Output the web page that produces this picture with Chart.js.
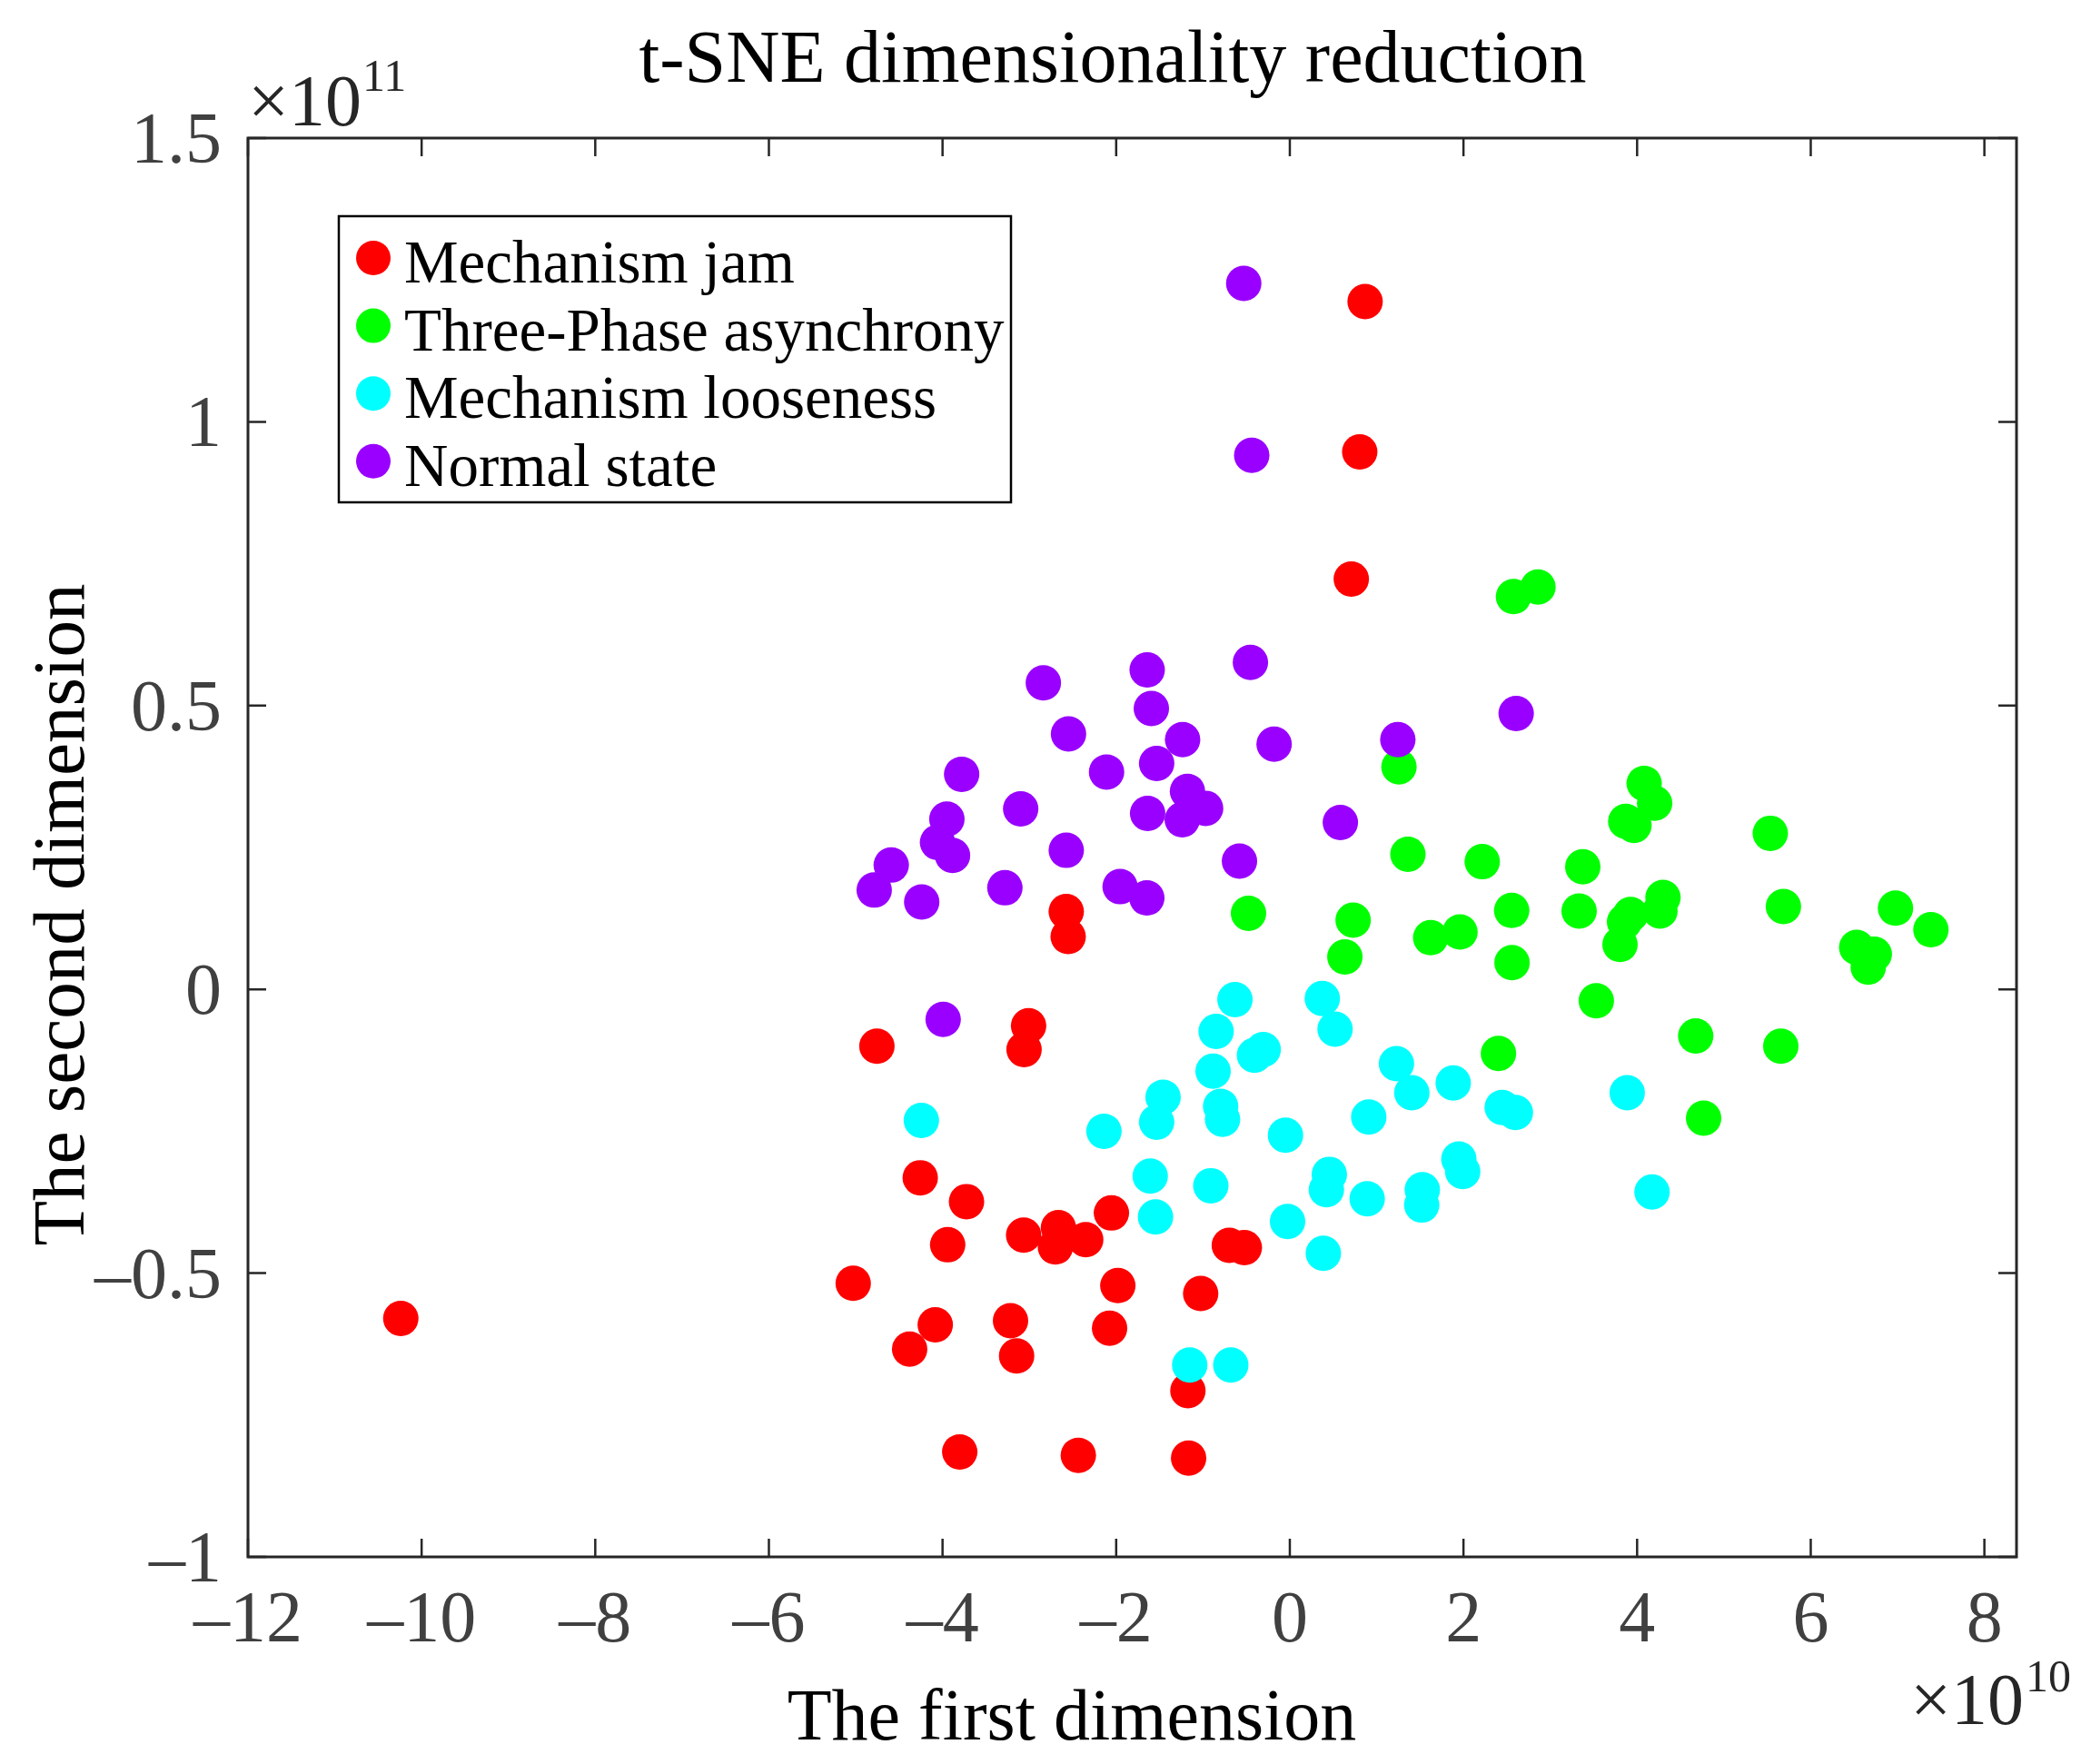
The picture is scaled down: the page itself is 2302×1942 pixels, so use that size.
<!DOCTYPE html>
<html>
<head>
<meta charset="utf-8">
<script src="https://cdn.jsdelivr.net/npm/chart.js@4.4.1/dist/chart.umd.min.js"></script>
<style>
html,body{margin:0;padding:0;background:#ffffff;}
canvas{display:block;}
</style>
</head>
<body>
<canvas id="c" width="2302" height="1942" style="width:2302px;height:1942px"></canvas>
<script>
// ---- Data (x in units of 1e10, y in units of 1e11) ----
const seriesNames = ["Mechanism jam", "Three-Phase asynchrony", "Mechanism looseness", "Normal state"];
const seriesColors = ["#FF0000", "#00FF00", "#00FFFF", "#9900FF"];

const jamX = [0.867, 0.805, 0.708, -2.575, -2.553, -4.756, -3.009, -3.061, -4.257, -3.724, -3.941, -3.066, -2.665, -2.700, -2.351, -2.055, -0.697, -0.524, -5.029, -1.981, -1.027, -4.084, -4.379, -3.217, -3.147, -2.076, -1.174, -3.802, -2.436, -1.166, -10.24];
const jamY = [1.212, 0.947, 0.723, 0.137, 0.093, -0.100, -0.064, -0.106, -0.332, -0.374, -0.450, -0.433, -0.420, -0.454, -0.441, -0.394, -0.451, -0.455, -0.518, -0.522, -0.536, -0.591, -0.634, -0.584, -0.646, -0.597, -0.707, -0.815, -0.821, -0.826, -0.580];

const asyncX = [2.576, 2.858, 1.257, 4.081, 4.202, 3.869, 3.964, 5.534, 1.360, 2.216, 3.374, 2.555, 3.332, 4.298, 4.263, 3.925, 3.855, 3.803, 5.685, 6.976, 7.384, 6.529, 6.732, 6.662, 1.622, 1.960, 2.559, 3.530, 4.675, 5.655, 2.403, 4.766, -0.476, 0.729, 0.634];
const asyncY = [0.692, 0.709, 0.392, 0.363, 0.328, 0.296, 0.289, 0.275, 0.238, 0.225, 0.216, 0.139, 0.138, 0.162, 0.138, 0.132, 0.119, 0.079, 0.146, 0.143, 0.105, 0.074, 0.062, 0.039, 0.091, 0.101, 0.047, -0.020, -0.082, -0.100, -0.113, -0.227, 0.134, 0.122, 0.057];

const looseX = [-0.632, 0.374, 0.521, -0.849, -0.407, -0.307, -0.884, 1.228, 1.405, 0.909, -1.460, -0.797, -0.775, -1.534, -4.244, -2.141, -0.050, -1.608, -0.910, 0.455, 0.421, 0.891, 1.526, 1.519, -1.547, -0.026, 0.386, -1.153, -0.680, 1.882, 2.446, 2.598, 3.886, 1.947, 1.991, 4.172];
const looseY = [-0.018, -0.016, -0.070, -0.074, -0.116, -0.106, -0.144, -0.131, -0.182, -0.225, -0.190, -0.206, -0.229, -0.234, -0.231, -0.250, -0.257, -0.329, -0.346, -0.326, -0.353, -0.369, -0.353, -0.380, -0.401, -0.409, -0.465, -0.662, -0.662, -0.165, -0.208, -0.217, -0.182, -0.299, -0.321, -0.357];

const normalX = [-0.531, -0.439, -2.839, -1.643, -0.454, -1.595, -2.549, -1.235, -0.181, 1.244, 2.607, -3.780, -2.111, -1.534, -1.179, -0.970, -1.239, -1.638, 0.582, -3.100, -3.950, -4.058, -3.885, -2.575, -0.580, -4.591, -4.787, -4.240, -3.282, -1.955, -1.647, -3.993];
const normalY = [1.244, 0.941, 0.540, 0.563, 0.576, 0.495, 0.450, 0.440, 0.432, 0.440, 0.486, 0.379, 0.383, 0.398, 0.349, 0.319, 0.299, 0.310, 0.294, 0.318, 0.300, 0.259, 0.236, 0.245, 0.226, 0.219, 0.175, 0.154, 0.179, 0.181, 0.161, -0.053];

const xTicks = [-12, -10, -8, -6, -4, -2, 0, 2, 4, 6, 8];
const yTicks = [-1, -0.5, 0, 0.5, 1, 1.5];
const xRange = [-12, 8.37];
const yRange = [-1, 1.5];

const titleText = "t-SNE dimensionality reduction";
const xLabelText = "The first dimension";
const yLabelText = "The second dimension";
const xExpText = ["\u00D710", "10"];
const yExpText = ["\u00D710", "11"];

// ---- build datasets ----
const xs = [jamX, asyncX, looseX, normalX];
const ys = [jamY, asyncY, looseY, normalY];
const datasets = seriesNames.map((name, i) => ({
  label: name,
  data: xs[i].map((x, k) => ({ x: x, y: ys[i][k] })),
  backgroundColor: seriesColors[i],
  borderColor: seriesColors[i],
  borderWidth: 0,
  pointRadius: 19.5,
  pointHoverRadius: 19.5,
  order: seriesNames.length - i
}));

const FONT = '"Liberation Serif", "Times New Roman", serif';
const AXIS_COLOR = '#262626';
const TICK_TEXT = '#404040';

function fmt(v) {
  return String(v).replace('-', '\u2013');
}

const framePlugin = {
  id: 'framePlugin',
  beforeDraw(chart) {
    const ctx = chart.ctx;
    ctx.save();
    ctx.fillStyle = '#ffffff';
    ctx.fillRect(0, 0, chart.width, chart.height);
    ctx.restore();
  },
  afterDraw(chart) {
    const ctx = chart.ctx;
    const a = chart.chartArea;
    const xs = chart.scales.x, ys = chart.scales.y;
    const tl = 20;
    ctx.save();
    ctx.strokeStyle = AXIS_COLOR;
    ctx.lineWidth = 2.5;
    ctx.beginPath();
    xs.ticks.forEach(t => {
      const p = xs.getPixelForValue(t.value);
      ctx.moveTo(p, a.bottom); ctx.lineTo(p, a.bottom - tl);
      ctx.moveTo(p, a.top); ctx.lineTo(p, a.top + tl);
    });
    ys.ticks.forEach(t => {
      const p = ys.getPixelForValue(t.value);
      ctx.moveTo(a.left, p); ctx.lineTo(a.left + tl, p);
      ctx.moveTo(a.right, p); ctx.lineTo(a.right - tl, p);
    });
    ctx.stroke();
    ctx.lineWidth = 3;
    ctx.strokeRect(a.left, a.top, a.right - a.left, a.bottom - a.top);

    // title
    ctx.fillStyle = '#000000';
    ctx.textAlign = 'center';
    ctx.textBaseline = 'alphabetic';
    ctx.font = '82px ' + FONT;
    ctx.fillText(titleText, 1225, 90);
    // x label
    ctx.font = '80px ' + FONT;
    ctx.fillText(xLabelText, 1180, 1915);
    // y label
    ctx.save();
    ctx.translate(92, 1007);
    ctx.rotate(-Math.PI / 2);
    ctx.font = '81px ' + FONT;
    ctx.fillText(yLabelText, 0, 0);
    ctx.restore();

    // exponent labels
    ctx.fillStyle = AXIS_COLOR;
    ctx.textAlign = 'left';
    ctx.font = '80px ' + FONT;
    ctx.fillText(yExpText[0], 273, 138);
    ctx.font = '50px ' + FONT;
    ctx.fillText(yExpText[1], 399, 100);
    ctx.font = '80px ' + FONT;
    ctx.fillText(xExpText[0], 2103, 1898);
    ctx.font = '50px ' + FONT;
    ctx.fillText(xExpText[1], 2230, 1862);

    // legend
    const lx0 = 373, ly0 = 238, lx1 = 1113, ly1 = 553;
    ctx.fillStyle = '#ffffff';
    ctx.fillRect(lx0, ly0, lx1 - lx0, ly1 - ly0);
    ctx.strokeStyle = '#000000';
    ctx.lineWidth = 2.5;
    ctx.strokeRect(lx0, ly0, lx1 - lx0, ly1 - ly0);
    ctx.font = '67px ' + FONT;
    chart.data.datasets.forEach((ds, i) => {
      const cy = 284 + i * 74.6;
      ctx.beginPath();
      ctx.fillStyle = ds.backgroundColor;
      ctx.arc(411, cy, 19, 0, Math.PI * 2);
      ctx.fill();
      ctx.fillStyle = '#000000';
      ctx.fillText(ds.label, 445, cy + 27);
    });
    ctx.restore();
  }
};

new Chart(document.getElementById('c'), {
  type: 'scatter',
  data: { datasets: datasets },
  options: {
    responsive: false,
    devicePixelRatio: 1,
    animation: false,
    events: [],
    layout: { padding: { top: 152, right: 82, left: 0, bottom: 0 } },
    plugins: {
      legend: { display: false },
      title: { display: false },
      tooltip: { enabled: false }
    },
    scales: {
      x: {
        type: 'linear',
        min: xRange[0],
        max: xRange[1],
        afterBuildTicks: (s) => { s.ticks = xTicks.map(v => ({ value: v })); },
        afterFit: (s) => { s.height = 228; },
        grid: { display: false, drawTicks: false },
        border: { display: false },
        ticks: {
          padding: 24,
          autoSkip: false,
          maxRotation: 0,
          color: TICK_TEXT,
          font: { family: FONT, size: 80 },
          callback: (v) => fmt(v)
        }
      },
      y: {
        type: 'linear',
        min: yRange[0],
        max: yRange[1],
        afterBuildTicks: (s) => { s.ticks = yTicks.map(v => ({ value: v })); },
        afterFit: (s) => { s.width = 273; },
        grid: { display: false, drawTicks: false },
        border: { display: false },
        ticks: {
          padding: 29,
          labelOffset: 6,
          autoSkip: false,
          color: TICK_TEXT,
          font: { family: FONT, size: 80 },
          callback: (v) => fmt(v)
        }
      }
    }
  },
  plugins: [framePlugin]
});
</script>
</body>
</html>
